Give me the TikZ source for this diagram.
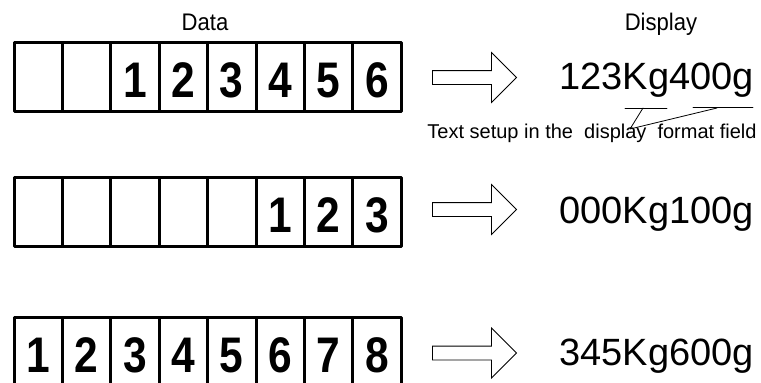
\documentclass[tikz,border=0pt]{standalone}
\usepackage{fontspec}
\usepackage{graphicx}
\setmainfont{Liberation Sans}
\usetikzlibrary{shapes.arrows}

\tikzset{
  cell/.style={draw,line width=3pt,minimum width=48.4pt,minimum height=69pt,
    inner sep=0pt,text height=42pt,text depth=0pt,
    font=\fontsize{50}{52}\selectfont\bfseries},
  fatarrow/.style={single arrow,draw,line width=0.8pt,line join=miter,
    inner sep=0pt,inner ysep=6.5pt,minimum height=84pt,
    single arrow head extend=18pt,single arrow tip angle=90,
    single arrow head indent=0pt},
  readout/.style={anchor=base,inner sep=0pt,
    font=\fontsize{38}{40}\selectfont},
  heading/.style={anchor=base,inner sep=0pt,xscale=0.92,
    font=\fontsize{24}{26}\selectfont},
  remark/.style={anchor=base,inner sep=0pt,
    font=\fontsize{20}{22}\selectfont}
}
\newcommand\narrowdigit[1]{\scalebox{0.85}[1]{#1}}

\begin{document}
\begin{tikzpicture}[x=1pt,y=-1pt,line cap=round,line join=round]
  \useasboundingbox (0,0) rectangle (761,383);
  \clip (0,0) rectangle (761,383);

  % Column headings.
  \node[heading] (hdata) at (205,30) {Data};
  \node[heading] (hdisp) at (661,30) {Display};

  % The three data registers, eight cells each.
  \foreach \d [count=\i] in {{},{},1,2,3,4,5,6}
    \node[cell] (a\i) at ({14+48.4*(\i-0.5)},76.5) {\narrowdigit{\d}};
  \foreach \d [count=\i] in {{},{},{},{},{},1,2,3}
    \node[cell] (b\i) at ({14+48.4*(\i-0.5)},211.5) {\narrowdigit{\d}};
  \foreach \d [count=\i] in {1,2,3,4,5,6,7,8}
    \node[cell] (c\i) at ({14+48.4*(\i-0.5)},351.5) {\narrowdigit{\d}};

  % Outline arrows from each register to its readout.
  \node[fatarrow] (ar1) at (471,77.5) {};
  \node[fatarrow] (ar2) at (471,209.5) {};
  \node[fatarrow] (ar3) at (471,353) {};

  % What the display shows.
  \node[readout] (d1) at (656.5,89) {123Kg400g};
  \node[readout] (d2) at (656.5,223) {000Kg100g};
  \node[readout] (d3) at (656.5,365) {345Kg600g};

  % Note on the fixed text, with its two pointers.
  \node[remark] (note) at (592,138) {Text setup in the \ display \ format field};
  \coordinate (k1) at (643,108);
  \coordinate (k2) at (717,108);
  \coordinate (tip) at (630,129);
  \draw[line width=0.8pt] (625,108) -- (667,108);
  \draw[line width=0.8pt] (693,107) -- (753,107);
  \draw[line width=0.8pt] (k1) -- (tip) -- (k2);
\end{tikzpicture}
\end{document}
